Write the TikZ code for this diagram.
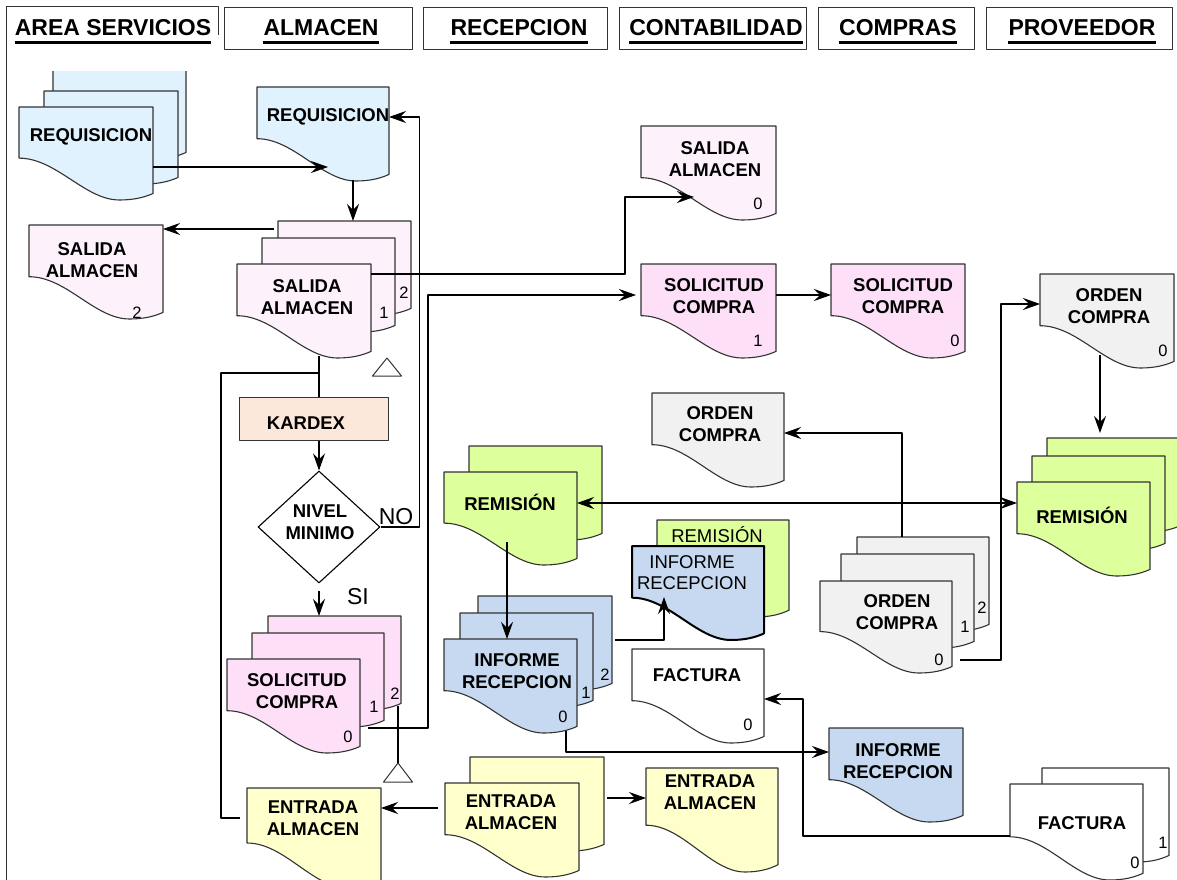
\documentclass[tikz,border=0pt]{standalone}
\usepackage{fontspec}
\setmainfont{Liberation Sans}
\usetikzlibrary{arrows.meta,calc,shapes.geometric}

\definecolor{reqblue}{HTML}{DFF2FD}
\definecolor{salpink}{HTML}{FDF2FB}
\definecolor{solpink}{HTML}{FDDFF7}
\definecolor{kardexc}{HTML}{FBE8DA}
\definecolor{ocgray}{HTML}{F1F1F1}
\definecolor{remgreen}{HTML}{DDFF9C}
\definecolor{infblue}{HTML}{C6D9F0}
\definecolor{entyel}{HTML}{FFFFCC}
\definecolor{dline}{HTML}{333333}

\makeatletter
\pgfdeclareshape{docshape}{%
  \inheritsavedanchors[from=rectangle]%
  \inheritanchorborder[from=rectangle]%
  \inheritanchor[from=rectangle]{center}%
  \inheritanchor[from=rectangle]{north}%
  \inheritanchor[from=rectangle]{south}%
  \inheritanchor[from=rectangle]{east}%
  \inheritanchor[from=rectangle]{west}%
  \inheritanchor[from=rectangle]{north east}%
  \inheritanchor[from=rectangle]{north west}%
  \inheritanchor[from=rectangle]{south east}%
  \inheritanchor[from=rectangle]{south west}%
  \backgroundpath{%
    \southwest \edef\dsL{\the\pgf@x}\edef\dsB{\the\pgf@y}%
    \northeast \edef\dsR{\the\pgf@x}\edef\dsT{\the\pgf@y}%
    \pgfmathsetlengthmacro\dsW{\dsR-\dsL}%
    \pgfmathsetlengthmacro\dsH{\dsT-\dsB}%
    \def\dspt##1##2{\pgfpoint{\dsL+(##1)*\dsW}{\dsT-(##2)*\dsH}}%
    \pgfpathmoveto{\dspt{0}{0}}%
    \pgfpathlineto{\dspt{1}{0}}%
    \pgfpathlineto{\dspt{1}{0.93}}%
    \pgfpathcurveto{\dspt{0.93}{0.975}}{\dspt{0.85}{1}}{\dspt{0.75}{1}}%
    \pgfpathcurveto{\dspt{0.49}{1}}{\dspt{0.28}{0.55}}{\dspt{0}{0.55}}%
    \pgfpathclose
  }%
}
\makeatother

\tikzset{
  docs/.style={shape=docshape, draw=dline, line width=1.1pt, inner sep=0pt, outer sep=0pt},
  dtxt/.style={font=\bfseries\fontsize{18.5}{21.5}\selectfont, align=center, inner sep=0pt},
  rtxt/.style={font=\fontsize{18.5}{21}\selectfont, align=center, inner sep=0pt},
  num/.style={font=\fontsize{16.5}{18}\selectfont, inner sep=0pt},
  lbl/.style={font=\fontsize{23}{26}\selectfont, inner sep=0pt},
  htxt/.style={font=\bfseries\fontsize{23}{26}\selectfont, inner sep=0pt, anchor=base},
  hbox/.style={draw=dline, line width=1pt, inner sep=0pt, anchor=north west},
  uline/.style={line width=2.8pt, draw=black},
  ln/.style={draw=black, line width=1.1pt},
  tip/.tip={Stealth[length=17pt,width=12pt,inset=6pt]},
  arr/.style={ln, -tip},
  arrb/.style={ln, tip-tip},
  tri/.style={draw=dline, line width=1pt, fill=white},
}
\newcommand\Doc[6]{\node[docs, fill=#6, minimum width=#4pt, minimum height=#5pt] (#1) at ({#2+#4/2},{#3+#5/2}) {};}

\begin{document}
\begin{tikzpicture}[x=1pt, y=-1pt, line join=round]
\useasboundingbox[fill=white] (0,0) rectangle (1177,880);

% ---------- header ----------
\coordinate (hb1) at (6,7);
\coordinate (hb1r) at (218,7);
\draw[draw=dline, line width=1pt] (hb1) -- (hb1r) -- ++(0,28);
\node[hbox, minimum width=188pt, minimum height=42pt] (hb2) at (224,7) {};
\node[hbox, minimum width=184pt, minimum height=42pt] (hb3) at (423,7) {};
\node[hbox, minimum width=187pt, minimum height=42pt] (hb4) at (619,7) {};
\node[hbox, minimum width=156pt, minimum height=42pt] (hb5) at (818,7) {};
\node[hbox, minimum width=186pt, minimum height=42pt] (hb6) at (986,7) {};
\coordinate (fbot) at (6,880);
\draw[draw=dline, line width=1pt] (hb1) -- (fbot);

\node[htxt] (t1) at (113,36) {AREA SERVICIOS};
\node[htxt] (t2) at (321,36) {ALMACEN};
\node[htxt] (t3) at (519,36) {RECEPCION};
\node[htxt] (t4) at (716,36) {CONTABILIDAD};
\node[htxt] (t5) at (898,36) {COMPRAS};
\node[htxt] (t6) at (1082,36) {PROVEEDOR};
\foreach \t in {t1,t2,t3,t4,t5,t6}
  \draw[uline] ($(\t.base west)+(0,6.5)$) -- ($(\t.base east)+(0,6.5)$);

% ---------- AREA SERVICIOS: requisicion stack ----------
\begin{scope}
  \clip (0,72) rectangle (300,300);
  \Doc{reqAS3}{53}{66}{133}{93}{reqblue}
\end{scope}
\Doc{reqAS2}{44}{91}{134}{93}{reqblue}
\Doc{reqAS1}{19}{107}{134}{93}{reqblue}
\node[dtxt] (reqAS-t) at (91,137) {REQUISICION};

% ---------- ALMACEN requisicion ----------
\Doc{reqAL}{257}{87}{132}{94}{reqblue}
\node[dtxt] (reqAL-t) at (328,117) {REQUISICION};

% ---------- salida almacen stack ----------
\Doc{salB}{278}{221}{133}{94}{salpink}
\Doc{salM}{262}{238}{133}{94}{salpink}
\Doc{salF}{237}{264}{134}{94}{salpink}
\node[dtxt] (salF-t) at (307,297) {SALIDA\\ALMACEN};
\node[num] (salB-n) at (404,293) {2};
\node[num] (salM-n) at (384,313) {1};

\Doc{sal2}{29}{225}{134}{94}{salpink}
\node[dtxt] (sal2-t) at (92,260) {SALIDA\\ALMACEN};
\node[num] (sal2-n) at (137,313) {2};

\Doc{sal0}{641}{126}{135}{94}{salpink}
\node[dtxt] (sal0-t) at (715,159) {SALIDA\\ALMACEN};
\node[num] (sal0-n) at (758,204) {0};

% ---------- solicitud compra ----------
\Doc{sc1}{641}{264}{135}{94}{solpink}
\node[dtxt] (sc1-t) at (714,296) {SOLICITUD\\COMPRA};
\node[num] (sc1-n) at (758,341) {1};
\Doc{sc0}{831}{264}{134}{94}{solpink}
\node[dtxt] (sc0-t) at (903,296) {SOLICITUD\\COMPRA};
\node[num] (sc0-n) at (955,341) {0};

\Doc{solB}{268}{616}{133}{94}{solpink}
\Doc{solM}{252}{633}{132}{94}{solpink}
\Doc{solF}{227}{659}{133}{94}{solpink}
\node[dtxt] (solF-t) at (297,691) {SOLICITUD\\COMPRA};
\node[num] (solF-n) at (348,737) {0};
\node[num] (solM-n) at (374,707) {1};
\node[num] (solB-n) at (395,694) {2};

% ---------- orden compra ----------
\Doc{oc0}{1040}{274}{134}{94}{ocgray}
\node[dtxt] (oc0-t) at (1109,306) {ORDEN\\COMPRA};
\node[num] (oc0-n) at (1163,351) {0};

\Doc{ocC}{652}{393}{132}{94}{ocgray}
\node[dtxt] (ocC-t) at (720,424) {ORDEN\\COMPRA};

\Doc{ocSB}{857}{537}{132}{94}{ocgray}
\Doc{ocSM}{841}{554}{133}{94}{ocgray}
\Doc{ocSF}{820}{581}{132}{92}{ocgray}
\node[dtxt] (ocSF-t) at (897,612) {ORDEN\\COMPRA};
\node[num] (ocSB-n) at (982,608) {2};
\node[num] (ocSM-n) at (965,627) {1};
\node[num] (ocSF-n) at (939,660) {0};

% ---------- remision ----------
\Doc{remPB}{1047}{438}{134}{94}{remgreen}
\Doc{remPM}{1032}{456}{133}{94}{remgreen}
\Doc{remPF}{1017}{482}{133}{94}{remgreen}
\node[dtxt] (remPF-t) at (1082,515) {REMISIÓN};

\Doc{remRB}{469}{446}{133}{94}{remgreen}
\Doc{remRF}{444}{472}{133}{93}{remgreen}
\node[dtxt] (remRF-t) at (510,502) {REMISIÓN};

\Doc{remS}{657}{520}{132}{97}{remgreen}
\node[rtxt] (remS-t) at (717,535) {REMISIÓN};
\node[docs, line width=2pt, draw=black, fill=infblue, minimum width=132pt, minimum height=94pt] (infS) at (698,593) {};
\node[rtxt] (infS-t) at (692,573) {INFORME\\RECEPCION};

% ---------- informe recepcion ----------
\Doc{infRB}{478}{596}{134}{94}{infblue}
\Doc{infRM}{460}{613}{133}{94}{infblue}
\Doc{infRF}{444}{639}{133}{94}{infblue}
\node[dtxt] (infRF-t) at (517,671) {INFORME\\RECEPCION};
\node[num] (infRF-n) at (563,717) {0};
\node[num] (infRM-n) at (586,693) {1};
\node[num] (infRB-n) at (605,675) {2};

\Doc{infC}{829}{728}{134}{94}{infblue}
\node[dtxt] (infC-t) at (898,761) {INFORME\\RECEPCION};

% ---------- factura ----------
\Doc{fac0}{632}{649}{132}{94}{white}
\node[dtxt] (fac0-t) at (697,675) {FACTURA};
\node[num] (fac0-n) at (748,725) {0};

\Doc{facPB}{1042}{768}{127}{94}{white}
\Doc{facPF}{1010}{784}{133}{96}{white}
\node[dtxt] (facPF-t) at (1082,823) {FACTURA};
\node[num] (facPF-n) at (1135,863) {0};
\node[num] (facPB-n) at (1163,843) {1};

% ---------- entrada almacen ----------
\Doc{entL}{247}{788}{134}{100}{entyel}
\node[dtxt] (entL-t) at (313,818) {ENTRADA\\ALMACEN};
\Doc{entRB}{470}{757}{134}{94}{entyel}
\Doc{entRF}{445}{783}{134}{94}{entyel}
\node[dtxt] (entRF-t) at (511,812) {ENTRADA\\ALMACEN};
\Doc{entC}{646}{768}{132}{104}{entyel}
\node[dtxt] (entC-t) at (710,792) {ENTRADA\\ALMACEN};

% ---------- kardex and decision ----------
\node[draw=dline, line width=1.1pt, fill=kardexc, minimum width=149pt, minimum height=43pt, inner sep=0pt, anchor=north west] (kardex) at (239,397) {};
\node[dtxt] (kardex-t) at (306,423) {KARDEX};
\node[diamond, draw=black, line width=1.1pt, fill=white, minimum width=122pt, minimum height=112pt, inner sep=0pt] (dia) at (319,527) {};
\node[dtxt] (dia-t) at (320,522) {NIVEL\\MINIMO};
\node[lbl] (no) at (396,517) {NO};
\node[lbl] (si) at (358,597) {SI};

% ---------- triangles ----------
\coordinate (tri1) at (387,358);
\draw[tri] (tri1) -- ++(14.5,18) -- ++(-29,0) -- cycle;
\coordinate (tri2) at (398,763);
\draw[tri] (tri2) -- ++(14.5,19) -- ++(-29,0) -- cycle;

% ---------- connectors ----------
\draw[arr] ($(reqAS1.north east)+(0,60)$) -- ($(reqAL.north west)+(71,80)$);
\draw[arr] ($(reqAL.north west)+(96,93)$) -- ($(salB.north west)+(75,0)$);
\draw[arr] ($(salB.north west)+(-4,8)$) -- ($(sal2.north east)+(0,4)$);
\draw[arr] ($(salF.north east)+(0,10)$) -- ++(254,0) |- ($(sal0.north west)+(53,71)$);
\draw[arr] (dia.east) -- ++(39,0) |- ($(reqAL.north east)+(0,30)$);
\draw[ln] ($(salF.north west)+(82,92)$) -- ($(kardex.north west)+(80,0)$);
\draw[ln] ($(kardex.north west)+(80,-24)$) -- ++(-98,0) |- ($(entL.north west)+(-7,30)$);
\draw[arr] ($(kardex.south west)+(80,0)$) -- (dia.north);
\draw[arr] ($(dia.south)+(0,7)$) -- ($(solB.north west)+(51,0)$);
\draw[arr] ($(solF.north east)+(8,69)$) -- ++(60,0) |- ($(sc1.north west)+(-5,31)$);
\draw[ln] ($(solB.north east)+(-3,90)$) -- (tri2);
\draw[arr] ($(sc1.north east)+(0,31)$) -- ($(sc0.north west)+(0,31)$);
\draw[arr] ($(ocSF.north east)+(8,79)$) -- ++(41,0) |- ($(oc0.north west)+(0,30)$);
\draw[arr] ($(oc0.north west)+(60,81)$) -- ($(remPB.north west)+(53,-5)$);
\draw[arrb] ($(remRF.north east)+(0,31)$) -- ($(remPF.north west)+(0,21)$);
\draw[arr] ($(ocSB.north west)+(45,0)$) |- ($(ocC.north east)+(0,40)$);
\draw[arr] ($(remRF.north west)+(63,70)$) -- ($(infRF.north west)+(63,0)$);
\draw[arr] ($(infRB.north east)+(3,44)$) -| ($(infS.north west)+(32,51)$);
\draw[arr] ($(infRF.north west)+(122,92)$) |- ($(infC.north west)+(0,24)$);
\draw[arr] ($(facPF.north west)+(0,52)$) -- ++(-207,0) |- ($(fac0.north east)+(0,50)$);
\draw[arr] ($(entRF.north west)+(-7,25)$) -- ($(entL.north east)+(0,20)$);
\draw[arr] ($(entRB.north east)+(3,41)$) -- ($(entC.north west)+(0,30)$);
\end{tikzpicture}
\end{document}
